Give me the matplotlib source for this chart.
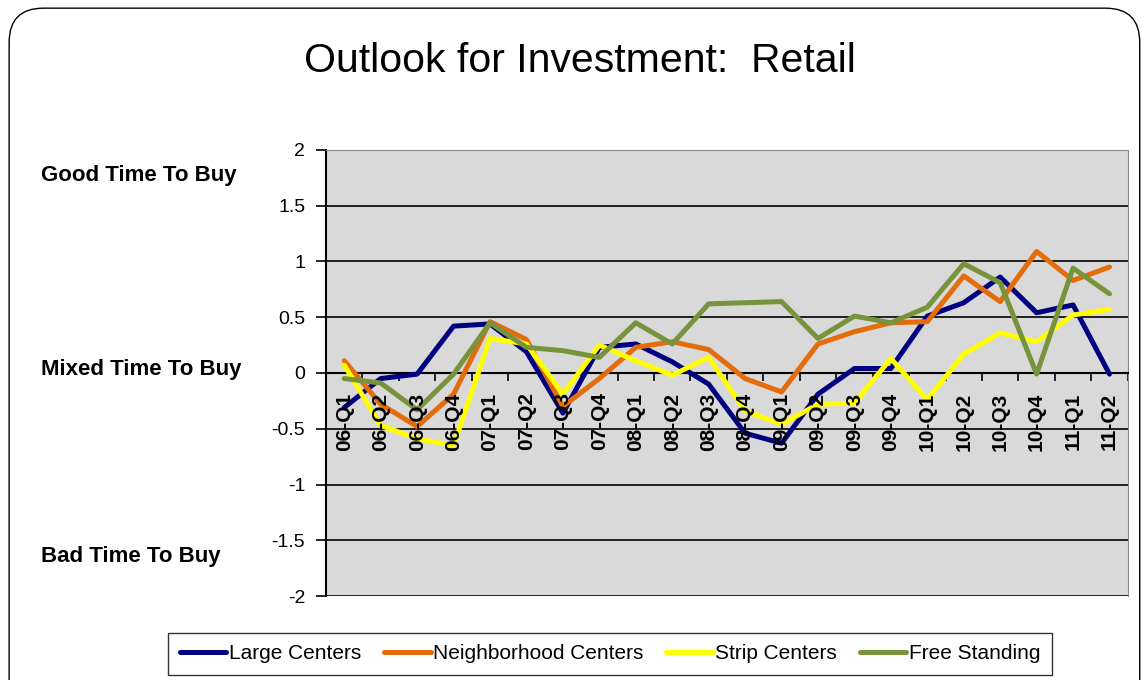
import matplotlib.pyplot as plt
from matplotlib.patches import FancyBboxPatch
from matplotlib.ticker import FixedLocator
from matplotlib.transforms import blended_transform_factory

quarters = ['06-Q1', '06-Q2', '06-Q3', '06-Q4', '07-Q1', '07-Q2', '07-Q3', '07-Q4',
            '08-Q1', '08-Q2', '08-Q3', '08-Q4', '09-Q1', '09-Q2', '09-Q3', '09-Q4',
            '10-Q1', '10-Q2', '10-Q3', '10-Q4', '11-Q1', '11-Q2']

large_centers = [-0.31, -0.05, -0.01, 0.42, 0.44, 0.19, -0.36, 0.23, 0.26, 0.10, -0.10,
                 -0.54, -0.63, -0.19, 0.04, 0.04, 0.51, 0.63, 0.86, 0.54, 0.61, -0.01]
neighborhood = [0.11, -0.28, -0.48, -0.19, 0.46, 0.30, -0.30, -0.05, 0.23, 0.28, 0.21,
                -0.05, -0.17, 0.26, 0.37, 0.45, 0.46, 0.87, 0.64, 1.09, 0.83, 0.95]
strip_centers = [0.07, -0.47, -0.59, -0.65, 0.31, 0.26, -0.19, 0.25, 0.11, -0.02, 0.14,
                 -0.34, -0.46, -0.28, -0.27, 0.13, -0.24, 0.17, 0.36, 0.28, 0.52, 0.57]
free_standing = [-0.05, -0.09, -0.33, -0.01, 0.45, 0.23, 0.20, 0.14, 0.45, 0.26, 0.62,
                 0.63, 0.64, 0.31, 0.51, 0.45, 0.59, 0.98, 0.81, -0.01, 0.94, 0.71]

series = [('Large Centers', large_centers, '#000080'),
          ('Neighborhood Centers', neighborhood, '#E46C0A'),
          ('Strip Centers', strip_centers, '#FFFF00'),
          ('Free Standing', free_standing, '#77933C')]

yticks = [2, 1.5, 1, 0.5, 0, -0.5, -1, -1.5, -2]
ytick_labels = ['2', '1.5', '1', '0.5', '0', '-0.5', '-1', '-1.5', '-2']
side_labels = [(1.77, 'Good Time To Buy'), (0.03, 'Mixed Time To Buy'), (-1.65, 'Bad Time To Buy')]

plt.rcParams['font.family'] = ['Liberation Sans', 'DejaVu Sans']

fig = plt.figure(figsize=(11.42, 6.8), dpi=100)

# rounded outer frame (bottom runs off the picture)
frame = FancyBboxPatch((0.008, -0.05), 0.99, 1.038, boxstyle='round,pad=0,rounding_size=0.03',
                       transform=fig.transFigure, fill=False, edgecolor='black',
                       linewidth=1.0, mutation_aspect=1142 / 680, zorder=-1)
fig.patches.append(frame)

ax = fig.add_axes([0.2855, 0.1235, 0.702, 0.656])
ax.set_facecolor('#D9D9D9')

x = list(range(len(quarters)))
for name, vals, col in series:
    ax.plot(x, vals, color=col, lw=3.6, label=name, solid_joinstyle='round',
            solid_capstyle='round', zorder=3)

ax.set_xlim(-0.5, len(quarters) - 0.5)
ax.set_ylim(-2, 2)
ax.set_yticks(yticks)
ax.set_yticklabels(ytick_labels, fontsize=14)
ax.yaxis.grid(True, color='black', lw=1.2)
ax.set_axisbelow(True)
ax.tick_params(axis='y', direction='out', length=7, width=1.2, pad=8)

ax.spines['bottom'].set_position(('data', 0))
ax.spines['bottom'].set_linewidth(1.5)
ax.spines['left'].set_linewidth(1.5)
ax.spines['top'].set_color('#888888')
ax.spines['right'].set_color('#888888')

# ticks sit between categories, labels hang below the zero line over the lines
ax.xaxis.set_major_locator(FixedLocator([i + 0.5 for i in range(-1, len(quarters))]))
ax.set_xticklabels([])
ax.tick_params(axis='x', which='major', direction='out', length=6, width=1.2)
for i, q in enumerate(quarters):
    ax.annotate(q, xy=(i, 0), xytext=(0, -14), textcoords='offset points', rotation=90,
                ha='center', va='top', fontsize=15, fontweight='bold', zorder=5)

side_tr = blended_transform_factory(fig.transFigure, ax.transData)
for yv, txt in side_labels:
    ax.text(41 / 1142, yv, txt, transform=side_tr, ha='left', va='center',
            fontsize=16, fontweight='bold')

fig.text(0.508, 0.91, 'Outlook for Investment:  Retail', ha='center', va='center',
         fontsize=29.5)

leg = fig.legend(loc='center', bbox_to_anchor=(0.534, 0.0385), ncol=4, fontsize=15,
                 frameon=True, fancybox=False, edgecolor='black', handlelength=2.25,
                 handletextpad=0.1, columnspacing=1.1, borderpad=0.55, borderaxespad=0)
leg.get_frame().set_linewidth(1.0)

fig.savefig('out.png', dpi=100)
